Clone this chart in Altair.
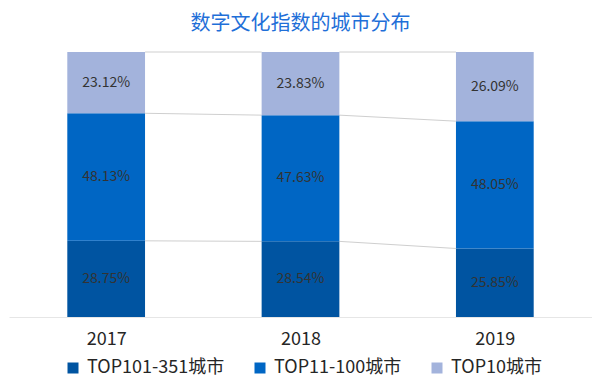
import altair as alt
import pandas as pd

years = ["2017", "2018", "2019"]
categories = ["TOP101-351城市", "TOP11-100城市", "TOP10城市"]
top101_351 = [28.75, 28.54, 25.85]
top11_100 = [48.13, 47.63, 48.05]
top10 = [23.12, 23.83, 26.09]
colors = ["#0054a1", "#0066c4", "#a3b3dc"]

series = [top101_351, top11_100, top10]

rows = []
for i, y in enumerate(years):
    base = 0.0
    for k, (cat, vals) in enumerate(zip(categories, series)):
        v = vals[i]
        rows.append({"idx": i, "year": y, "cat": cat,
                     "v0": base, "v1": base + v, "mid": base + v / 2,
                     "label": f"{v:.2f}%"})
        base += v
df = pd.DataFrame(rows)

half = 0.2
pts = []
for i in range(len(years) - 1):
    a0 = 0.0
    b0 = 0.0
    for k, vals in enumerate(series):
        a0 += vals[i]
        b0 += vals[i + 1]
        seg = f"{i}-{k}"
        pts.append({"seg": seg, "idx": i, "side": 1, "yv": min(a0, 100)})
        pts.append({"seg": seg, "idx": i + 1, "side": -1, "yv": min(b0, 100)})
cdf = pd.DataFrame(pts)

xscale = alt.Scale(domain=[-0.5, 2.5], nice=False, zero=False)
yscale = alt.Scale(domain=[0, 100], nice=False)

label_expr = "[" + ",".join(f"'{y}'" for y in years) + "][datum.value]"
xaxis = alt.Axis(values=list(range(len(years))), labelExpr=label_expr,
                 title=None, ticks=False, grid=False,
                 domainColor="#e6e6e6", domainWidth=1,
                 labelFontSize=18, labelColor="#262626", labelFontWeight="normal",
                 labelFont="Noto Sans CJK SC", labelPadding=13)

bars = alt.Chart(df).transform_calculate(
    xl=f"datum.idx - {half}", xr=f"datum.idx + {half}"
).mark_rect().encode(
    x=alt.X("xl:Q", scale=xscale, axis=xaxis),
    x2="xr:Q",
    y=alt.Y("v0:Q", scale=yscale, axis=None),
    y2="v1:Q",
    color=alt.Color("cat:N", scale=alt.Scale(domain=categories, range=colors),
                    legend=alt.Legend(title=None, orient="none", direction="horizontal",
                                      legendX=55, legendY=307,
                                      symbolType="square", symbolSize=121,
                                      labelFontSize=18, labelColor="#262626",
                                      labelFont="Noto Sans CJK SC",
                                      labelOffset=5, columnPadding=26)),
)

texts = alt.Chart(df).mark_text(fontSize=14, color="#333333",
                                font="Noto Sans CJK SC").encode(
    x=alt.X("idx:Q", scale=xscale, axis=xaxis),
    y=alt.Y("mid:Q", scale=yscale, axis=None),
    text="label:N",
)

lines = alt.Chart(cdf).transform_calculate(
    xp=f"datum.idx + datum.side * {half}"
).mark_line(color="#cfcfcf", strokeWidth=1).encode(
    x=alt.X("xp:Q", scale=xscale, axis=xaxis),
    y=alt.Y("yv:Q", scale=yscale, axis=None),
    detail="seg:N",
)

chart = alt.layer(lines, bars, texts).properties(
    width=583, height=265,
    title=alt.TitleParams("数字文化指数的城市分布", fontSize=20, color="#1f6fd8",
                          font="Noto Sans CJK SC", fontWeight="normal",
                          anchor="middle", offset=16),
    autosize=alt.AutoSizeParams(type="none"),
    padding={"left": 1, "top": 44, "right": 0, "bottom": 62},
).configure_view(strokeWidth=0)

chart.save("out.html", embed_options={"renderer": "svg", "actions": False})
